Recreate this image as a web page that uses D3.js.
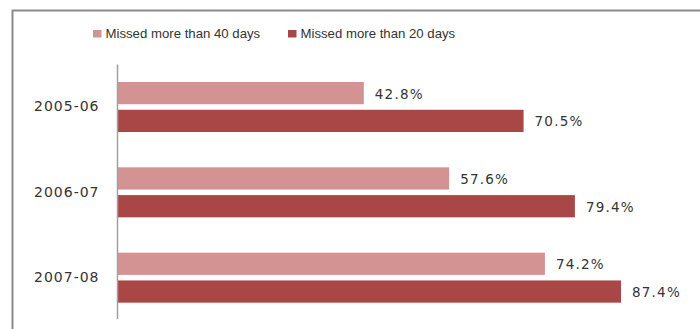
<!DOCTYPE html>
<html><head><meta charset="utf-8">
<script src="https://cdn.jsdelivr.net/npm/d3@7"></script>
<style>body{margin:0;background:#fff;}svg{display:block;}</style>
</head><body>
<script>
const categories = ["2005-06", "2006-07", "2007-08"];
const seriesNames = ["Missed more than 40 days", "Missed more than 20 days"];
const over40 = [42.8, 57.6, 74.2];
const over20 = [70.5, 79.4, 87.4];
const colors = ["#D39392", "#A94746"];

const W = 700, H = 329;
const svg = d3.select("body").append("svg").attr("width", W).attr("height", H);

// outer border
svg.append("rect").attr("x", 12.5).attr("y", 10.5).attr("width", 720).attr("height", 340)
  .attr("fill", "none").attr("stroke", "#8a8a8a").attr("stroke-width", 2);

const x = d3.scaleLinear().domain([0, 100]).range([117, 693.7]);
const y = d3.scaleBand().domain(categories).range([64.5, 320.5]);
const inner = d3.scaleBand().domain([0, 1]).range([17.5, 67.5]).paddingInner(0.2);

const series = [over40, over20];
const font = "DejaVu Sans, sans-serif";

categories.forEach((c, i) => {
  series.forEach((vals, s) => {
    const by = y(c) + inner(s);
    svg.append("rect").attr("x", x(0)).attr("y", by).attr("width", x(vals[i]) - x(0))
      .attr("height", inner.bandwidth()).attr("fill", colors[s]);
    svg.append("text").attr("x", x(vals[i]) + 11).attr("y", by + inner.bandwidth() / 2 + 5.5)
      .attr("font-family", font).attr("font-size", 13.5).attr("letter-spacing", 1.2)
      .attr("fill", "#333").text(vals[i].toFixed(1) + "%");
  });
});

const axis = d3.axisLeft(y).tickSize(0).tickPadding(18);
const g = svg.append("g").attr("transform", "translate(117.5,0)").call(axis);
g.select(".domain").attr("stroke", "#a0a0a0").attr("stroke-width", 1.5).attr("d", "M0,64.5V319");
g.selectAll(".tick text").attr("font-family", font).attr("font-size", 14)
  .attr("letter-spacing", 1).attr("fill", "#333").attr("dy", "0.3em");

// legend
const legendX = [93, 288];
seriesNames.forEach((n, s) => {
  svg.append("rect").attr("x", legendX[s]).attr("y", 30).attr("width", 8.5).attr("height", 7.5).attr("fill", colors[s]);
  svg.append("text").attr("x", legendX[s] + 12.5).attr("y", 37.5)
    .attr("font-family", "Liberation Sans, Arial, sans-serif").attr("font-size", 13.2)
    .attr("fill", "#333").text(n);
});
</script>
</body></html>
